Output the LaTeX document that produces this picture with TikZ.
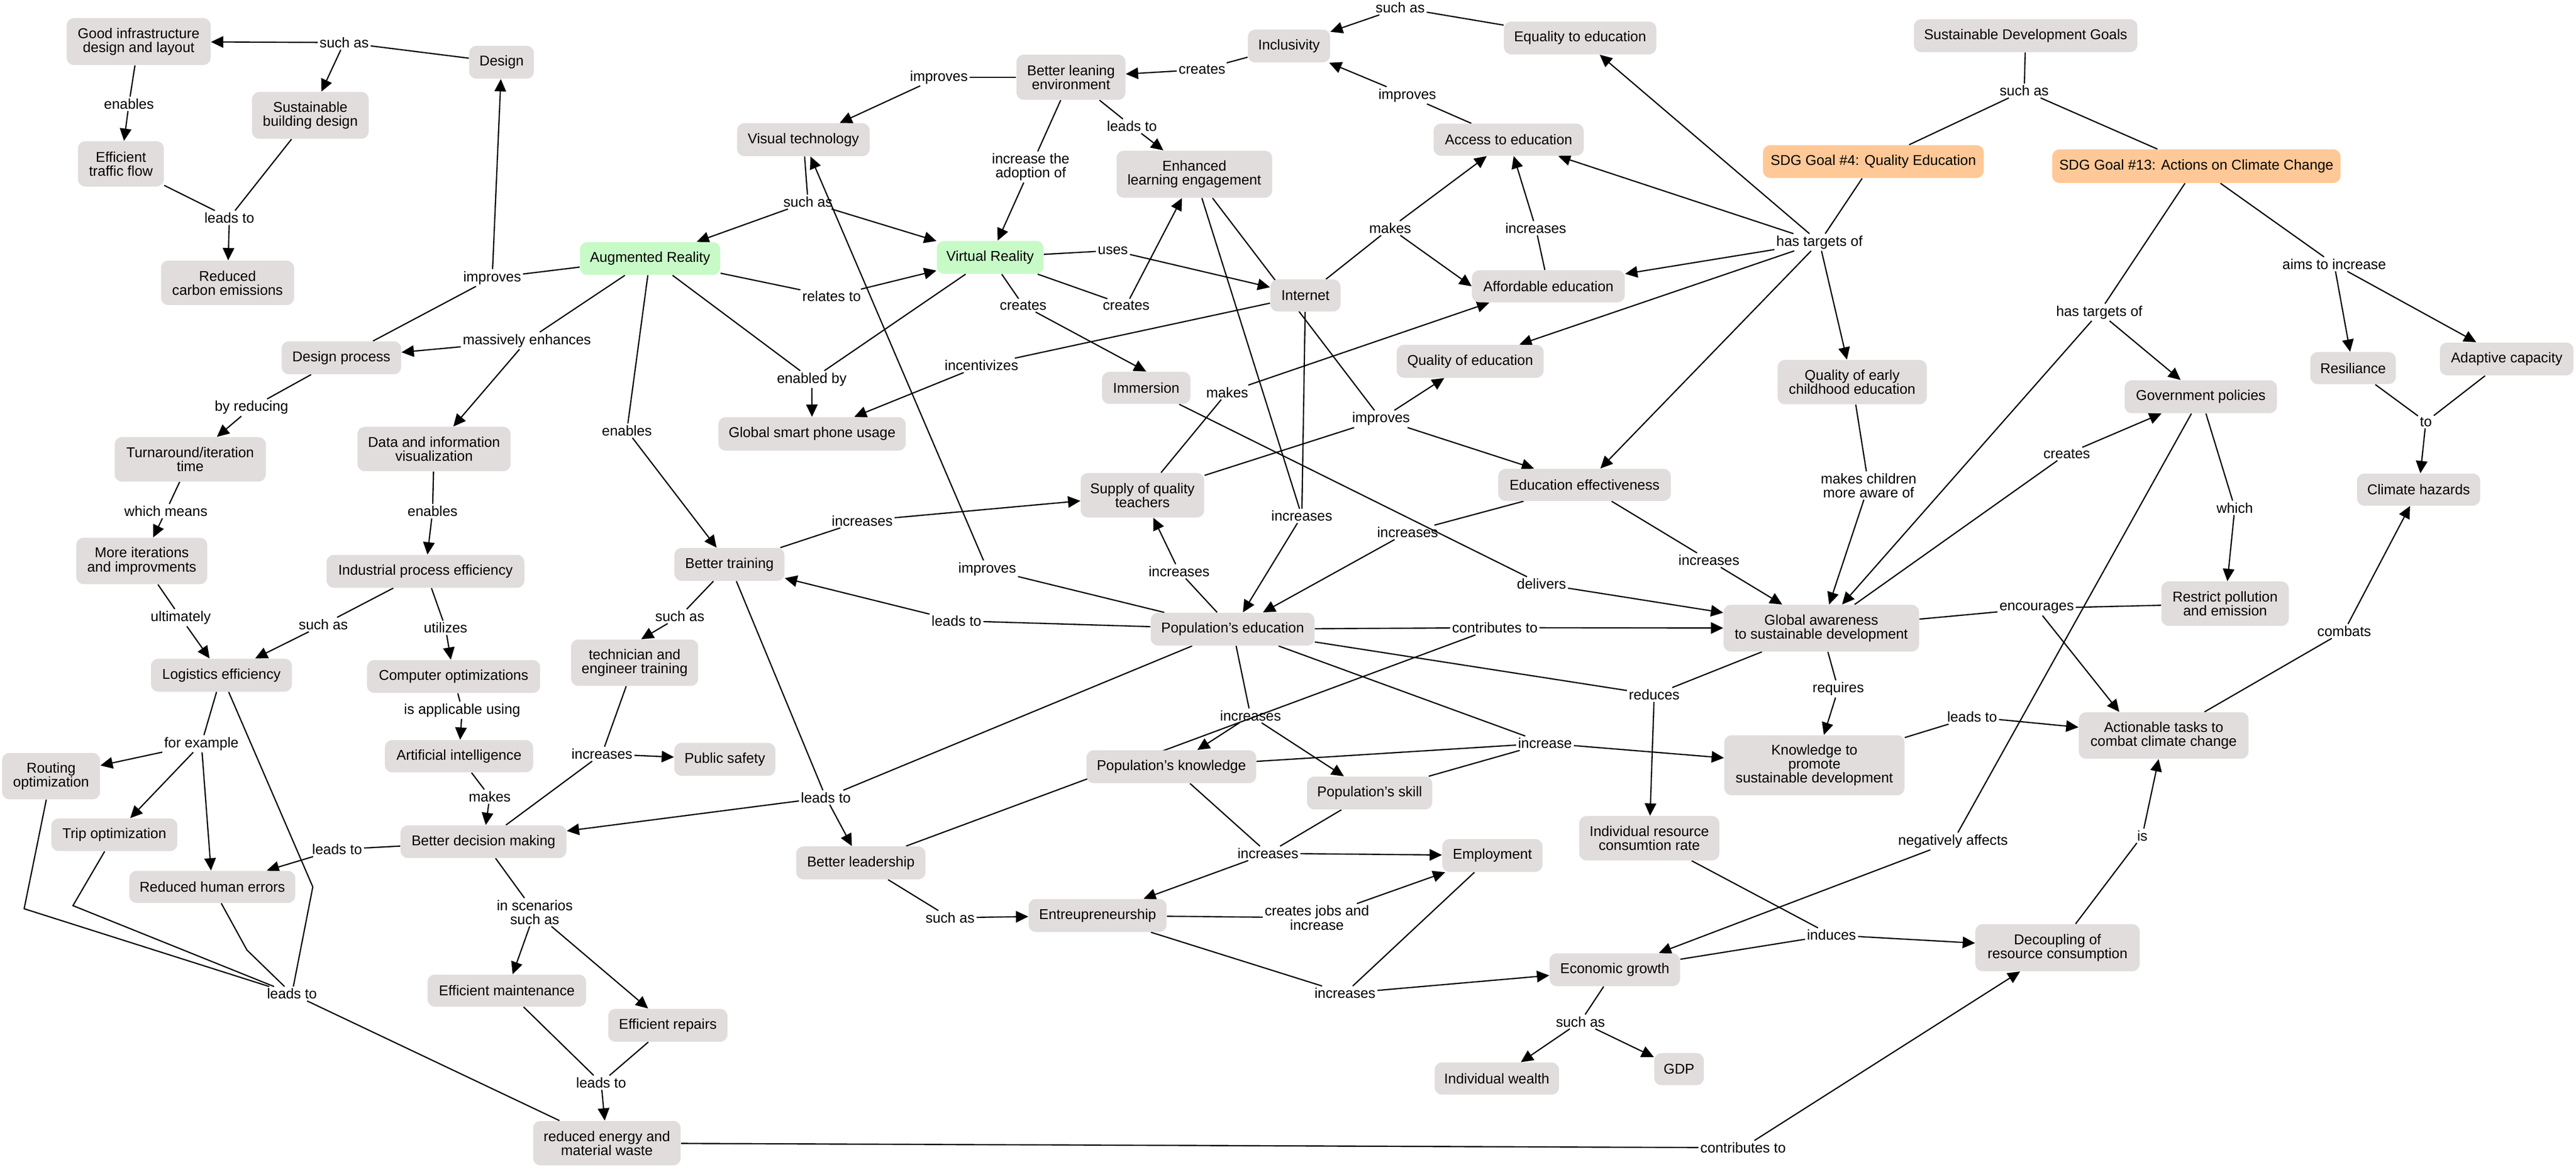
\documentclass[tikz,border=0pt]{standalone}
\usepackage{fontspec}
\setmainfont{Liberation Sans}
\usetikzlibrary{arrows.meta,backgrounds}
\definecolor{cgray}{RGB}{224,221,220}
\definecolor{cgreen}{RGB}{200,250,200}
\definecolor{corange}{RGB}{255,200,150}
\newcommand\nf{\fontsize{8.66pt}{8.5pt}\selectfont}
\newcommand\Cn[6]{\node[#1,minimum width=#5pt,minimum height=#6pt] (#2) at (#3) {#4};}
\newcommand\Lb[3]{\node[lb] (#1) at (#2) {#3};}
\newcommand\Ln[2]{\draw[ln] (#1) -- (#2);}
\newcommand\Ar[2]{\draw[arr] (#1) -- (#2);}
\begin{document}
\begin{tikzpicture}[x=1pt,y=-1pt,
 cn/.style={rectangle,rounded corners=4.5pt,fill=cgray,inner xsep=2pt,inner ysep=1pt,align=center,font=\nf},
 gn/.style={cn,fill=cgreen},
 orn/.style={cn,fill=corange},
 lb/.style={inner sep=1pt,align=center,font=\nf},
 ln/.style={line width=0.75pt,black},
 arr/.style={ln,-{Triangle[length=7.5pt,width=7pt]}}]
\useasboundingbox (0,0) rectangle (1568,711);
% concepts
\Cn{cn}{gi}{84.4,25.3}{Good infrastructure\\design and layout}{87.6}{28.5}
\Cn{cn}{design}{305.3,37.9}{Design}{39.4}{20}
\Cn{cn}{sbd}{188.9,70.2}{Sustainable\\building design}{71}{28.5}
\Cn{cn}{etf}{73.6,99.7}{Efficient\\traffic flow}{52.3}{27.5}
\Cn{cn}{rce}{138.5,172.1}{Reduced\\carbon emissions}{81}{27}
\Cn{gn}{aug}{395.7,157.3}{Augmented Reality}{85.4}{20}
\Cn{cn}{dp}{207.8,217.7}{Design process}{72.8}{20}
\Cn{cn}{incl}{784.6,28}{Inclusivity}{50}{20}
\Cn{cn}{ble}{651.9,47}{Better leaning\\environment}{66.3}{27.5}
\Cn{cn}{vt}{489,85}{Visual technology}{80.7}{20}
\Cn{cn}{ele}{727,106}{Enhanced\\learning engagement}{94.7}{28.6}
\Cn{gn}{vr}{602.7,156.6}{Virtual Reality}{65}{20}
\Cn{cn}{imm}{697.7,236}{Immersion}{53.8}{19.5}
\Cn{cn}{gspu}{494.3,264}{Global smart phone usage}{114}{20.4}
\Cn{cn}{eqe}{961.8,23.1}{Equality to education}{92.7}{20}
\Cn{cn}{acc}{918.3,85}{Access to education}{91.4}{19.5}
\Cn{cn}{aff}{942.5,174.2}{Affordable education}{93}{19.5}
\Cn{cn}{inet}{794.6,179.8}{Internet}{42.7}{19.5}
\Cn{cn}{qoe}{894.9,219.8}{Quality of education}{89.4}{20}
\Cn{orn}{sdgf}{1140.3,98.3}{SDG Goal \#4: Quality Education}{134.3}{20}
\Cn{cn}{qecd}{1127.4,232.5}{Quality of early\\childhood education}{90.8}{27}
\Cn{cn}{sdgs}{1233,21.7}{Sustainable Development Goals}{136}{20}
\Cn{orn}{sdgt}{1336.9,101.1}{SDG Goal \#13: Actions on Climate Change}{175.5}{20.4}
\Cn{cn}{res}{1432.3,224}{Resiliance}{52}{19.5}
\Cn{cn}{adc}{1525.8,218.4}{Adaptive capacity}{81.3}{20}
\Cn{cn}{gov}{1339.6,241.4}{Government policies}{92.7}{20}
\Cn{cn}{ch}{1472.2,297.9}{Climate hazards}{75}{19.5}
\Cn{cn}{rpe}{1354.4,367.3}{Restrict pollution\\and emission}{77.5}{27}
\Cn{cn}{act}{1317,447.5}{Actionable tasks to\\combat climate change}{103.3}{28.3}
\Cn{cn}{dec}{1252.4,576.6}{Decoupling of\\resource consumption}{100}{28.6}
\Cn{cn}{ee}{964.5,295}{Education effectiveness}{105}{19.5}
\Cn{cn}{ga}{1108.6,382.2}{Global awareness\\to sustainable development}{119}{28.4}
\Cn{cn}{kpsd}{1104.4,465.6}{Knowledge to\\promote\\sustainable development}{109.7}{36.5}
\Cn{cn}{pe}{750.3,382.8}{Population's education}{99.7}{20}
\Cn{cn}{sqt}{695.4,301.3}{Supply of quality\\teachers}{75.2}{27}
\Cn{cn}{bt}{444,343.4}{Better training}{67}{20}
\Cn{cn}{tet}{386.3,403.2}{technician and\\engineer training}{77.4}{28.2}
\Cn{cn}{pk}{713,466.5}{Population's knowledge}{103.3}{20}
\Cn{cn}{ps}{441.2,462}{Public safety}{61.5}{20}
\Cn{cn}{tit}{115.8,279.5}{Turnaround/iteration\\time}{92}{27}
\Cn{cn}{div}{264.2,273.2}{Data and information\\visualization}{93.2}{27}
\Cn{cn}{mii}{86.3,341.3}{More iterations\\and improvments}{79.7}{28.2}
\Cn{cn}{ipe}{259,347.6}{Industrial process efficiency}{120.4}{20}
\Cn{cn}{le}{134.8,410.8}{Logistics efficiency}{85.8}{20}
\Cn{cn}{co}{276.1,411.6}{Computer optimizations}{105.4}{20}
\Cn{cn}{ai}{279.4,460.1}{Artificial intelligence}{90.2}{19.6}
\Cn{cn}{ro}{31.1,472.2}{Routing\\optimization}{59.6}{28.2}
\Cn{cn}{tro}{69.6,507.9}{Trip optimization}{76.7}{19.8}
\Cn{cn}{bdm}{294.3,512.1}{Better decision making}{101}{19.8}
\Cn{cn}{rhe}{129.2,539.6}{Reduced human errors}{101}{19.5}
\Cn{cn}{em}{308.5,602.7}{Efficient maintenance}{96.5}{19.5}
\Cn{cn}{er}{406.5,623.8}{Efficient repairs}{72.6}{20}
\Cn{cn}{rem}{369.4,695.5}{reduced energy and\\material waste}{89.8}{27}
\Cn{cn}{bl}{524,525}{Better leadership}{78.7}{20}
\Cn{cn}{ent}{668.1,557}{Entreupreneurship}{84}{20}
\Cn{cn}{psk}{833.7,482.5}{Population's skill}{76.2}{20}
\Cn{cn}{irc}{1003.9,510}{Individual resource\\consumtion rate}{85.3}{27}
\Cn{cn}{emp}{908.4,520.5}{Employment}{61}{20}
\Cn{cn}{eg}{982.9,590}{Economic growth}{79.4}{20}
\Cn{cn}{iw}{911.1,656.2}{Individual wealth}{75.7}{19.5}
\Cn{cn}{gdp}{1022,650.5}{GDP}{30.2}{19.5}
% linking phrases
\Lb{saa}{209.5,25.9}{such as}
\Lb{ena}{78.5,63.2}{enables}
\Lb{lta}{139.6,132.5}{leads to}
\Lb{impa}{299.6,169}{improves}
\Lb{me}{320.7,207.3}{massively enhances}
\Lb{impb}{571.5,47}{improves}
\Lb{cra}{731.7,42.3}{creates}
\Lb{ltb}{689,76.8}{leads to}
\Lb{ita}{627.4,101.6}{increase the\\adoption of}
\Lb{sab}{491.8,122.8}{such as}
\Lb{uses}{677.4,152.4}{uses}
\Lb{rel}{506.2,180.3}{relates to}
\Lb{crb}{622.8,185.8}{creates}
\Lb{crc}{685.5,185.8}{creates}
\Lb{inz}{597.4,222.3}{incentivizes}
\Lb{eb}{494.1,230.8}{enabled by}
\Lb{mka}{747,238.7}{makes}
\Lb{sac}{852.3,4.7}{such as}
\Lb{impc}{856.6,58}{improves}
\Lb{mkb}{846.2,138.8}{makes}
\Lb{inca}{934.8,138.8}{increases}
\Lb{htoa}{1107.5,147.4}{has targets of}
\Lb{sad}{1232.1,55.2}{such as}
\Lb{htob}{1277.8,190}{has targets of}
\Lb{ati}{1420.8,160.7}{aims to increase}
\Lb{crd}{1258,276.2}{creates}
\Lb{tol}{1476.6,256.6}{to}
\Lb{which}{1360.3,309}{which}
\Lb{enc}{1239.7,370.1}{encourages}
\Lb{comb}{1426.9,384}{combats}
\Lb{ltc}{1200.4,436.2}{leads to}
\Lb{na}{1188.8,511.8}{negatively affects}
\Lb{isl}{1304,508.5}{is}
\Lb{ind}{1114.8,568.9}{induces}
\Lb{impd}{840.6,254.9}{improves}
\Lb{mcma}{1137.4,295.4}{makes children\\more aware of}
\Lb{incb}{792.4,313.9}{increases}
\Lb{incc}{856.8,323.9}{increases}
\Lb{incd}{1040.2,340.8}{increases}
\Lb{del}{938.3,355.3}{delivers}
\Lb{cta}{909.9,381.9}{contributes to}
\Lb{rdc}{1006.9,422.7}{reduces}
\Lb{req}{1118.9,419.2}{requires}
\Lb{incr}{940.4,452.2}{increase}
\Lb{ince}{524.8,316.8}{increases}
\Lb{impe}{600.9,346.2}{improves}
\Lb{incf}{717.7,347.6}{increases}
\Lb{ltd}{582.2,377.7}{leads to}
\Lb{sae}{413.8,375}{such as}
\Lb{incg}{761.2,435.4}{increases}
\Lb{byr}{153.1,248}{by reducing}
\Lb{enb}{381.6,262}{enables}
\Lb{wm}{101,311}{which means}
\Lb{enx}{263.3,311}{enables}
\Lb{ult}{110,375.8}{ultimately}
\Lb{saf}{196.8,380}{such as}
\Lb{util}{271.2,382}{utilizes}
\Lb{iau}{281.3,432.1}{is applicable using}
\Lb{inch}{366.4,458.7}{increases}
\Lb{fe}{122.6,452.5}{for example}
\Lb{mkc}{298.1,484.7}{makes}
\Lb{lte}{205.2,516.8}{leads to}
\Lb{iss}{325.5,555}{in scenarios\\such as}
\Lb{ltf}{177.7,604.6}{leads to}
\Lb{ltg}{365.9,658.7}{leads to}
\Lb{lth}{502.7,485.2}{leads to}
\Lb{sag}{578.3,558.4}{such as}
\Lb{inci}{771.8,519.2}{increases}
\Lb{cji}{801.6,558.4}{creates jobs and\\increase}
\Lb{incj}{818.7,604.3}{increases}
\Lb{sah}{962,621.6}{such as}
\Lb{ctb}{1061,698.3}{contributes to}
% connectors
\begin{pgfonlayer}{background}
\Ln{design}{saa} \Ar{saa}{gi} \Ar{saa}{sbd}
\Ln{gi}{ena} \Ar{ena}{etf}
\Ln{etf}{lta} \Ln{sbd}{lta} \Ar{lta}{rce}
\Ln{aug}{impa} \Ln{dp}{impa} \Ar{impa}{design}
\Ln{aug}{me} \Ar{me}{dp} \Ar{me}{div}
\Ln{ble}{impb} \Ar{impb}{vt}
\Ln{incl}{cra} \Ar{cra}{ble}
\Ln{ble}{ltb} \Ar{ltb}{ele}
\Ln{ble}{ita} \Ar{ita}{vr}
\Ln{vt}{sab} \Ar{sab}{aug} \Ar{sab}{vr}
\Ln{vr}{uses} \Ar{uses}{inet}
\Ln{aug}{rel} \Ar{rel}{vr}
\Ln{vr}{crb} \Ar{crb}{imm.north}
\Ln{vr}{crc} \Ar{crc}{ele}
\Ln{inet}{inz} \Ar{inz}{gspu}
\Ln{aug}{eb} \Ln{vr}{eb} \Ar{eb}{gspu}
\Ln{sqt}{mka} \Ar{mka}{[xshift=-36pt]aff.south}
\Ln{eqe}{sac} \Ar{sac}{incl}
\Ln{acc}{impc} \Ar{impc}{incl}
\Ln{inet}{mkb} \Ar{mkb}{acc} \Ar{mkb}{aff.west}
\Ln{aff}{inca} \Ar{inca}{acc}
\Ln{sdgf}{htoa} \Ar{htoa}{eqe} \Ar{htoa}{acc} \Ar{htoa}{aff} \Ar{htoa}{qoe} \Ar{htoa}{qecd} \Ar{htoa}{ee}
\Ln{sdgs}{sad} \Ln{sad}{sdgf} \Ln{sad}{sdgt}
\Ln{sdgt}{htob} \Ar{htob}{gov} \Ar{htob}{ga}
\Ln{sdgt}{ati} \Ar{ati}{res} \Ar{ati}{adc}
\Ln{ga}{crd} \Ar{crd}{gov}
\Ln{res}{tol} \Ln{adc}{tol} \Ar{tol}{ch}
\Ln{gov}{which} \Ar{which}{rpe}
\Ln{ga}{enc} \Ln{rpe}{enc} \Ar{enc}{[xshift=-27pt]act.north}
\Ln{act}{comb} \Ar{comb}{ch}
\Ln{kpsd}{ltc} \Ar{ltc}{act}
\Ln{gov}{na} \Ar{na}{eg}
\Ln{dec}{isl} \Ar{isl}{act}
\Ln{irc}{ind} \Ln{eg}{ind} \Ar{ind}{dec}
\Ln{ele}{impd} \Ln{sqt}{impd} \Ar{impd}{qoe} \Ar{impd}{ee}
\Ln{qecd}{mcma} \Ar{mcma}{ga}
\Ln{inet}{incb} \Ln{ele}{incb} \Ar{incb}{pe}
\Ln{ee}{incc} \Ar{incc}{pe}
\Ln{ee}{incd} \Ar{incd}{ga}
\Ln{imm}{del} \Ar{del}{ga}
\Ln{pe}{cta} \Ln{bl}{cta} \Ar{cta}{ga}
\Ln{pe}{rdc} \Ln{ga}{rdc} \Ar{rdc}{irc}
\Ln{ga}{req} \Ar{req}{kpsd}
\Ln{pe}{incr} \Ln{pk}{incr} \Ln{psk}{incr} \Ar{incr}{kpsd}
\Ln{bt}{ince} \Ar{ince}{sqt}
\Ln{pe}{impe} \Ar{impe}{vt}
\Ln{pe}{incf} \Ar{incf}{sqt}
\Ln{pe}{ltd} \Ar{ltd}{bt}
\Ln{bt}{sae} \Ar{sae}{[xshift=4pt]tet.north}
\Ln{pe}{incg} \Ar{incg}{pk} \Ar{incg}{psk}
\Ln{dp}{byr} \Ar{byr}{tit}
\Ln{aug}{enb} \Ar{enb}{bt}
\Ln{tit}{wm} \Ar{wm}{mii}
\Ln{div}{enx} \Ar{enx}{ipe}
\Ln{mii}{ult} \Ar{ult}{le}
\Ln{ipe}{saf} \Ar{saf}{le}
\Ln{ipe}{util} \Ar{util}{co}
\Ln{co}{iau} \Ar{iau}{ai}
\Ln{tet}{inch} \Ln{bdm}{inch} \Ar{inch}{ps}
\Ln{le}{fe} \Ar{fe}{ro} \Ar{fe}{tro} \Ar{fe}{rhe}
\Ln{ai}{mkc} \Ar{mkc}{bdm}
\Ln{bdm}{lte} \Ar{lte}{rhe}
\Ln{bdm}{iss} \Ar{iss}{em} \Ar{iss}{er}
\draw[ln] (ro) -- (14.7,552.9) -- (ltf);
\draw[ln] (tro) -- (44.4,551) -- (ltf);
\draw[ln] (rhe) -- (150.3,578) -- (ltf);
\draw[ln] (le) -- (190.4,539.6) -- (ltf);
\Ln{ltf}{rem}
\Ln{em}{ltg} \Ln{er}{ltg} \Ar{ltg}{rem}
\Ln{bt}{lth} \Ln{pe}{lth} \Ar{lth}{bl} \Ar{lth}{bdm}
\Ln{bl}{sag} \Ar{sag}{ent}
\Ln{pk}{inci} \Ln{psk}{inci} \Ar{inci}{emp} \Ar{inci}{ent}
\Ln{ent}{cji} \Ar{cji}{emp}
\Ln{ent}{incj} \Ln{emp}{incj} \Ar{incj}{eg}
\Ln{eg}{sah} \Ar{sah}{iw} \Ar{sah}{gdp}
\Ln{rem}{ctb} \Ar{ctb}{dec}
\end{pgfonlayer}
\end{tikzpicture}
\end{document}
